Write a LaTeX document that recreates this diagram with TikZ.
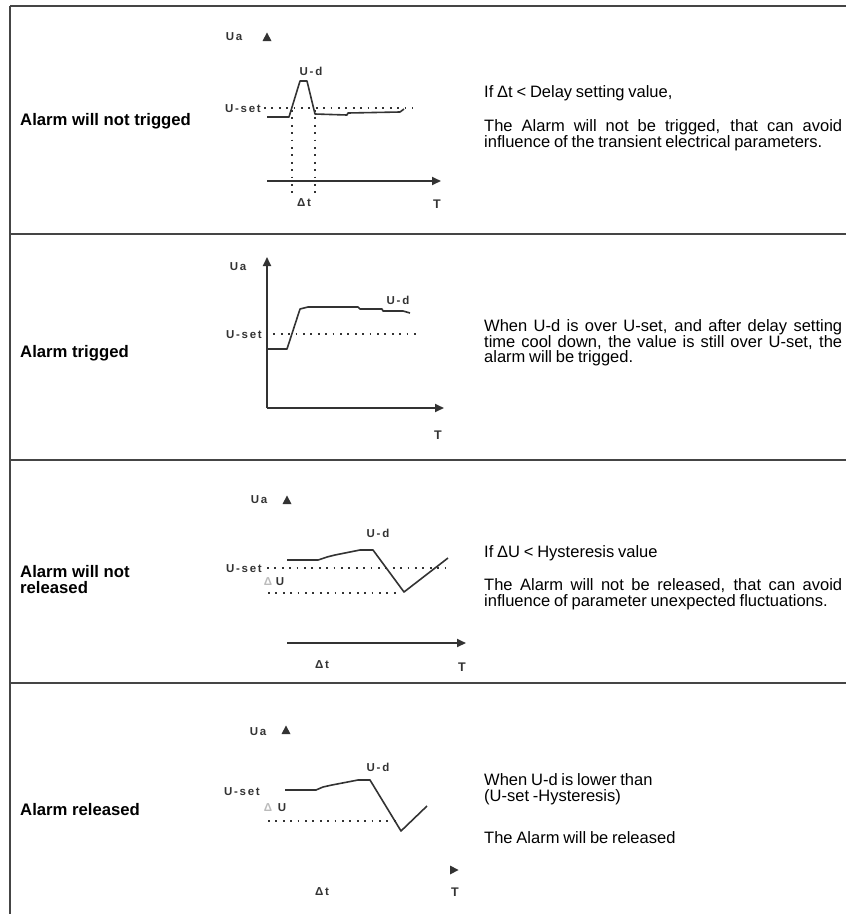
\documentclass[tikz,border=0pt]{standalone}
\usepackage{fontspec}
\setmainfont{Liberation Sans}
\newfontfamily\plotfont[LetterSpace=15]{Liberation Sans}
\usetikzlibrary{arrows.meta}
\usetikzlibrary{calc,positioning}

\definecolor{inkgray}{HTML}{333333}
\definecolor{rulegray}{HTML}{454545}
\definecolor{fadegray}{HTML}{BBBBBB}

% one justified line of the right column
\newcommand{\jline}[1]{\makebox[358pt][s]{#1}}

\tikzset{
    rule/.style={line width=2pt, rulegray},
    rowlabel/.style={anchor=west, inner sep=0pt, align=left,
        font=\fontsize{16.7}{16}\selectfont\bfseries},
    note/.style={anchor=west, inner sep=0pt, align=left,
        font={\fontsize{16.5}{15.5}\selectfont\spaceskip=3.8pt plus 8pt minus 1pt}},
    plotlbl/.style={inner sep=0pt, font=\fontsize{11.5}{11.5}\selectfont\plotfont\bfseries, inkgray},
    axislbl/.style={inner sep=0pt, font=\fontsize{12.5}{12.5}\selectfont\bfseries, inkgray},
    curve/.style={line width=1.6pt, inkgray, line join=round},
    level/.style={line width=1.7pt, inkgray, dash pattern=on 1.8pt off 5.6pt},
    axis/.style={line width=1.8pt, inkgray, -{Triangle[length=9pt,width=8pt]}},
}

\begin{document}
\begin{tikzpicture}[x=1pt,y=-1pt]
    \useasboundingbox (0,0) rectangle (846,914);

    % table frame
    \draw[rule] (10,6) -- (846,6);
    \draw[rule] (10,6) -- (10,914);
    \foreach \yy in {234,460,683}
        \draw[rule] (10,\yy) -- (846,\yy);

    % row labels
    \node[rowlabel] (lblA) at (20,121) {Alarm will not trigged};
    \node[rowlabel] (lblB) at (20,353) {Alarm trigged};
    \node[rowlabel] (lblC) at (20,580) {Alarm will not\\released};
    \node[rowlabel] (lblD) at (20,810) {Alarm released};

    % ---- row 1: alarm will not trigged
    \node[plotlbl] (uaA) at (234,37) {Ua};
    \fill[inkgray] (262.5,41) -- (271.5,41) -- (267,32.5) -- cycle;
    \node[plotlbl] (udA) at (311,71) {U-d};
    \node[plotlbl, anchor=east] (usA) at (261,109) {U-set};
    \draw[level] (264,108) -- (413,108);
    \draw[curve] (267,117) -- (289,117) -- (300,81) -- (307,81) -- (315,114)
        -- (347,115) -- (348,113) -- (400,112) -- (404,109);
    \draw[level] (292,110) -- (292,198);
    \draw[level] (315,110) -- (315,198);
    \coordinate (oA) at (267,181);
    \coordinate (tA) at (441,181);
    \draw[axis] (oA) -- (tA);
    \node[plotlbl] (dtA) at (304,203) {Δt};
    \node[axislbl] (TA) at (437,204) {T};

    \node[note] (ifA) at (484,93) {If Δt < Delay setting value,};
    \node[note] (txtA) at (484,135) {\jline{The Alarm will not be trigged, that can avoid}\\
        influence of the transient electrical parameters.};

    % ---- row 2: alarm trigged
    \coordinate (oB) at (267,408);
    \coordinate (yB) at (267,257);
    \coordinate (tB) at (444,408);
    \draw[axis] (oB) -- (yB);
    \draw[axis] (oB) -- (tB);
    \node[plotlbl] (uaB) at (238,267) {Ua};
    \node[plotlbl] (udB) at (398,300) {U-d};
    \node[plotlbl, anchor=east] (usB) at (262,335) {U-set};
    \draw[level] (266,334) -- (420,334);
    \draw[curve] (267,349) -- (287,349) -- (300,309) -- (308,307) -- (358,307)
        -- (360,309) -- (382,309) -- (383,311) -- (403,311) -- (410,313);
    \node[axislbl] (TB) at (438,435) {T};

    \node[note] (txtB) at (484,343) {\jline{When U-d is over U-set, and after delay setting}\\
        \jline{time cool down, the value is still over U-set, the}\\
        alarm will be trigged.};

    % ---- row 3: alarm will not released
    \node[plotlbl] (uaC) at (259,500) {Ua};
    \fill[inkgray] (282.5,504) -- (291.5,504) -- (287,495.5) -- cycle;
    \node[plotlbl] (udC) at (378,533) {U-d};
    \node[plotlbl, anchor=east] (usC) at (262,569) {U-set};
    \draw[level] (267,568) -- (450,568);
    \node[plotlbl, fadegray] (duC) at (268,582) {Δ};
    \node[plotlbl] (uC) at (280,582) {U};
    \draw[level] (268,593) -- (397,593);
    \draw[curve] (287,560) -- (318,560) -- (327,557) -- (335,555) -- (360,550)
        -- (373,550) -- (404,592) -- (448,558);
    \coordinate (oC) at (287,643);
    \coordinate (tC) at (466,643);
    \draw[axis] (oC) -- (tC);
    \node[plotlbl] (dtC) at (322,665) {Δt};
    \node[axislbl] (TC) at (462,667) {T};

    \node[note] (ifC) at (484,553) {If ΔU < Hysteresis value};
    \node[note] (txtC) at (484,594) {\jline{The Alarm will not be released, that can avoid}\\
        influence of parameter unexpected fluctuations.};

    % ---- row 4: alarm released
    \node[plotlbl] (uaD) at (258,732) {Ua};
    \fill[inkgray] (281.5,734) -- (290.5,734) -- (286,725.5) -- cycle;
    \node[plotlbl] (udD) at (378,767) {U-d};
    \node[plotlbl, anchor=east] (usD) at (260,792) {U-set};
    \node[plotlbl, fadegray] (duD) at (268,808) {Δ};
    \node[plotlbl] (uD) at (282,808) {U};
    \draw[level] (268,821) -- (400,821);
    \draw[curve] (285,790) -- (316,790) -- (323,787) -- (332,785) -- (358,780)
        -- (370,780) -- (401,831) -- (427,806);
    \fill[inkgray] (450,865.5) -- (450,874.5) -- (458.5,870) -- cycle;
    \node[plotlbl] (dtD) at (322,892) {Δt};
    \node[axislbl] (TD) at (455,892) {T};

    \node[note] (ifD) at (484,789) {When U-d is lower than\\(U-set -Hysteresis)};
    \node[note] (txtD) at (484,838) {The Alarm will be released};
\end{tikzpicture}
\end{document}
